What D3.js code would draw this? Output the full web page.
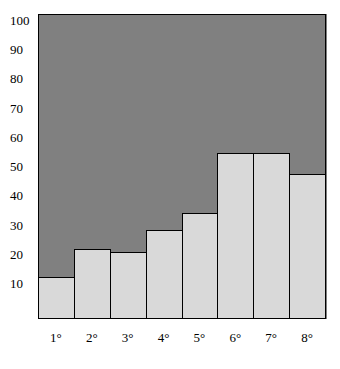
<!DOCTYPE html>
<html>
<head>
<meta charset="utf-8">
<script src="https://cdn.jsdelivr.net/npm/d3@7"></script>
<style>
  body { margin: 0; background: #fff; }
  text { font-family: "Liberation Serif", "Times New Roman", serif; font-size: 13px; fill: #000; }
</style>
</head>
<body>
<div id="chart"></div>
<script>
// values
var categories = ["1°", "2°", "3°", "4°", "5°", "6°", "7°", "8°"];
var values = [12.3, 21.9, 20.7, 28.2, 34.2, 54.5, 54.5, 47.4];
var yTicks = [10, 20, 30, 40, 50, 60, 70, 80, 90, 100];

var width = 340, height = 369;
var plotLeft = 38, plotRight = 325, plotTop = 14, plotBottom = 318;

var svg = d3.select("#chart").append("svg")
    .attr("width", width)
    .attr("height", height);

var x = d3.scaleBand()
    .domain(categories)
    .range([plotLeft, plotRight])
    .padding(0);

// tick labels sit a bit above the plot floor, so the value scale is set from them
var y = d3.scaleLinear()
    .domain([0, 100])
    .range([312.7, 20.5]);

// plot background
svg.append("rect")
    .attr("x", plotLeft + 0.5)
    .attr("y", plotTop + 0.5)
    .attr("width", plotRight - plotLeft)
    .attr("height", plotBottom - plotTop)
    .attr("fill", "#808080")
    .attr("stroke", "#000")
    .attr("stroke-width", 1);

// bars
svg.selectAll(".bar")
    .data(values)
    .enter().append("rect")
    .attr("class", "bar")
    .attr("x", function (d, i) { return Math.round(x(categories[i])) + 0.5; })
    .attr("y", function (d) { return Math.round(y(d)) + 0.5; })
    .attr("width", function (d, i) {
        return Math.round(x(categories[i]) + x.bandwidth()) - Math.round(x(categories[i]));
    })
    .attr("height", function (d) { return plotBottom - Math.round(y(d)); })
    .attr("fill", "#d9d9d9")
    .attr("stroke", "#000")
    .attr("stroke-width", 1);

// right edge a bit heavier, as in the picture
svg.append("line")
    .attr("x1", plotRight + 1).attr("x2", plotRight + 1)
    .attr("y1", plotTop).attr("y2", plotBottom + 1)
    .attr("stroke", "#000")
    .attr("stroke-width", 1);

// y labels, left aligned
svg.selectAll(".ylab")
    .data(yTicks)
    .enter().append("text")
    .attr("class", "ylab")
    .attr("x", 10)
    .attr("y", function (d) { return y(d); })
    .attr("dy", "0.35em")
    .text(function (d) { return d; });

// x labels
svg.selectAll(".xlab")
    .data(categories)
    .enter().append("text")
    .attr("class", "xlab")
    .attr("x", function (d) { return x(d) + x.bandwidth() / 2; })
    .attr("y", 337)
    .attr("dy", "0.35em")
    .attr("text-anchor", "middle")
    .text(function (d) { return d; });
</script>
</body>
</html>
